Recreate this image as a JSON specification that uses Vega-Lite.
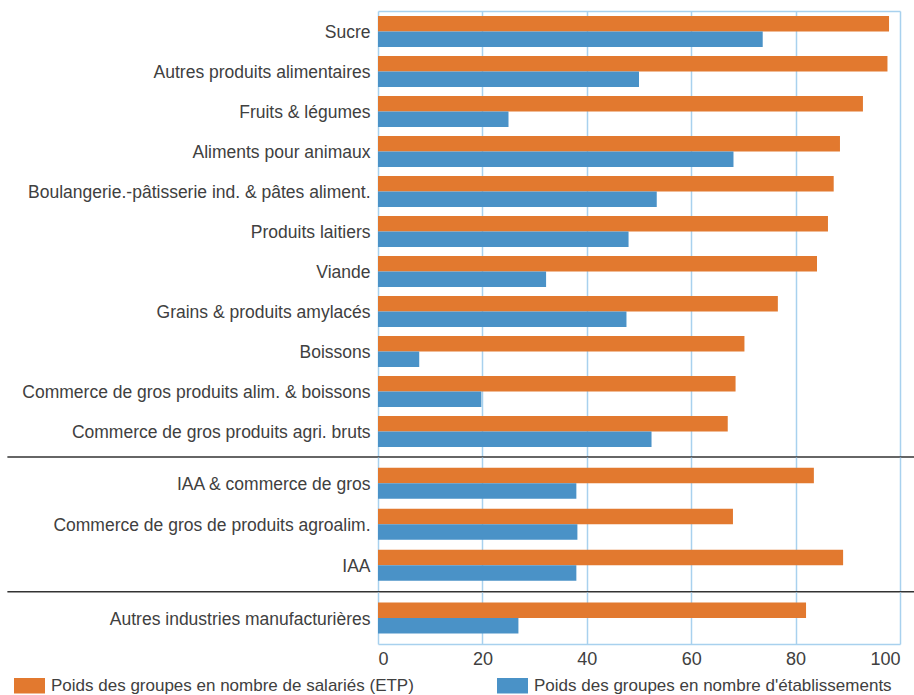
{
  "$schema": "https://vega.github.io/schema/vega-lite/v6.json",
  "padding": {"left": 6, "top": 11, "right": 0, "bottom": 0},
  "autosize": {"type": "pad"},
  "background": "white",
  "config": {
    "view": {"stroke": null},
    "font": "Liberation Sans",
    "axis": {"labelFont": "Liberation Sans", "labelColor": "#404040", "labelFontSize": 17.5, "ticks": false, "gridColor": "#a8d1ee", "gridWidth": 1.5, "gridOpacity": 1},
    "axisY": {"labelOffset": 2},
    "legend": {"labelFont": "Liberation Sans"}
  },
  "datasets": {
    "bars": [
      {"secteur": "Sucre", "bloc": "detail", "serie": "Poids des groupes en nombre de salariés (ETP)", "valeur": 97.9},
      {"secteur": "Sucre", "bloc": "detail", "serie": "Poids des groupes en nombre d'établissements", "valeur": 73.7},
      {"secteur": "Autres produits alimentaires", "bloc": "detail", "serie": "Poids des groupes en nombre de salariés (ETP)", "valeur": 97.6},
      {"secteur": "Autres produits alimentaires", "bloc": "detail", "serie": "Poids des groupes en nombre d'établissements", "valeur": 50.0},
      {"secteur": "Fruits & légumes", "bloc": "detail", "serie": "Poids des groupes en nombre de salariés (ETP)", "valeur": 92.9},
      {"secteur": "Fruits & légumes", "bloc": "detail", "serie": "Poids des groupes en nombre d'établissements", "valeur": 25.0},
      {"secteur": "Aliments pour animaux", "bloc": "detail", "serie": "Poids des groupes en nombre de salariés (ETP)", "valeur": 88.5},
      {"secteur": "Aliments pour animaux", "bloc": "detail", "serie": "Poids des groupes en nombre d'établissements", "valeur": 68.1},
      {"secteur": "Boulangerie.-pâtisserie ind. & pâtes aliment. ", "bloc": "detail", "serie": "Poids des groupes en nombre de salariés (ETP)", "valeur": 87.3},
      {"secteur": "Boulangerie.-pâtisserie ind. & pâtes aliment. ", "bloc": "detail", "serie": "Poids des groupes en nombre d'établissements", "valeur": 53.4},
      {"secteur": "Produits laitiers", "bloc": "detail", "serie": "Poids des groupes en nombre de salariés (ETP)", "valeur": 86.2},
      {"secteur": "Produits laitiers", "bloc": "detail", "serie": "Poids des groupes en nombre d'établissements", "valeur": 48.0},
      {"secteur": "Viande", "bloc": "detail", "serie": "Poids des groupes en nombre de salariés (ETP)", "valeur": 84.1},
      {"secteur": "Viande", "bloc": "detail", "serie": "Poids des groupes en nombre d'établissements", "valeur": 32.2},
      {"secteur": "Grains & produits  amylacés", "bloc": "detail", "serie": "Poids des groupes en nombre de salariés (ETP)", "valeur": 76.6},
      {"secteur": "Grains & produits  amylacés", "bloc": "detail", "serie": "Poids des groupes en nombre d'établissements", "valeur": 47.6},
      {"secteur": "Boissons", "bloc": "detail", "serie": "Poids des groupes en nombre de salariés (ETP)", "valeur": 70.2},
      {"secteur": "Boissons", "bloc": "detail", "serie": "Poids des groupes en nombre d'établissements", "valeur": 7.9},
      {"secteur": "Commerce de gros produits alim. & boissons", "bloc": "detail", "serie": "Poids des groupes en nombre de salariés (ETP)", "valeur": 68.5},
      {"secteur": "Commerce de gros produits alim. & boissons", "bloc": "detail", "serie": "Poids des groupes en nombre d'établissements", "valeur": 19.8},
      {"secteur": "Commerce de gros produits agri. bruts ", "bloc": "detail", "serie": "Poids des groupes en nombre de salariés (ETP)", "valeur": 67.0},
      {"secteur": "Commerce de gros produits agri. bruts ", "bloc": "detail", "serie": "Poids des groupes en nombre d'établissements", "valeur": 52.4},
      {"secteur": "IAA & commerce de gros", "bloc": "ensemble", "serie": "Poids des groupes en nombre de salariés (ETP)", "valeur": 83.5},
      {"secteur": "IAA & commerce de gros", "bloc": "ensemble", "serie": "Poids des groupes en nombre d'établissements", "valeur": 38.0},
      {"secteur": "Commerce de gros de produits agroalim.", "bloc": "ensemble", "serie": "Poids des groupes en nombre de salariés (ETP)", "valeur": 68.0},
      {"secteur": "Commerce de gros de produits agroalim.", "bloc": "ensemble", "serie": "Poids des groupes en nombre d'établissements", "valeur": 38.2},
      {"secteur": "IAA", "bloc": "ensemble", "serie": "Poids des groupes en nombre de salariés (ETP)", "valeur": 89.1},
      {"secteur": "IAA", "bloc": "ensemble", "serie": "Poids des groupes en nombre d'établissements", "valeur": 38.0},
      {"secteur": "Autres industries manufacturières", "bloc": "autres", "serie": "Poids des groupes en nombre de salariés (ETP)", "valeur": 82.0},
      {"secteur": "Autres industries manufacturières", "bloc": "autres", "serie": "Poids des groupes en nombre d'établissements", "valeur": 26.9}
    ],
    "separateurs": [
      {"secteur": "Commerce de gros produits agri. bruts ", "bloc": "detail", "debut": -71, "fin": 102.8},
      {"secteur": "IAA", "bloc": "ensemble", "debut": -71, "fin": 102.8}
    ]
  },
  "vconcat": [
    {
      "width": 522,
      "height": 446,
      "layer": [
        {
          "data": {"name": "bars"},
          "transform": [{"filter": "datum.bloc === 'detail'"}],
          "mark": {"type": "bar"},
          "encoding": {
            "y": {"field": "secteur", "type": "nominal", "sort": null, "title": null,
                  "scale": {"paddingInner": 0.225, "paddingOuter": 0.1875, "align": 0.333},
                  "axis": {"domain": false, "labelPadding": 8, "labelLimit": 400}},
            "yOffset": {"field": "serie", "type": "nominal", "sort": ["Poids des groupes en nombre de salariés (ETP)", "Poids des groupes en nombre d'établissements"]},
            "x": {"field": "valeur", "type": "quantitative", "title": null,
                  "scale": {"domain": [0, 100]},
                  "axis": {"orient": "top", "values": [0, 20, 40, 60, 80, 100], "labels": false, "domain": true, "domainColor": "#a8d1ee", "domainWidth": 1.5, "grid": true}},
            "color": {"field": "serie", "type": "nominal", "sort": ["Poids des groupes en nombre de salariés (ETP)", "Poids des groupes en nombre d'établissements"],
                      "scale": {"domain": ["Poids des groupes en nombre de salariés (ETP)", "Poids des groupes en nombre d'établissements"], "range": ["#e2792f", "#4a92c7"]},
                      "legend": {"orient": "none", "legendX": -364, "legendY": 659, "direction": "horizontal", "title": null, "symbolType": "M-1,-0.5H1V0.5H-1Z", "symbolSize": 961, "symbolStrokeWidth": 0, "symbolOpacity": 1, "labelFontSize": 17, "labelColor": "#404040", "labelLimit": 420, "columnPadding": 83, "labelOffset": 6, "padding": 0}}
          }
        },
        {
          "data": {"name": "separateurs"},
          "transform": [{"filter": "datum.bloc === 'detail'"}],
          "mark": {"type": "rule", "color": "#333333", "strokeWidth": 1.5},
          "encoding": {
            "y": {"field": "secteur", "type": "nominal", "sort": null, "bandPosition": 1.3226},
            "x": {"field": "debut", "type": "quantitative"},
            "x2": {"field": "fin"}
          }
        }
      ]
    },
    {
      "width": 522,
      "height": 134.3,
      "layer": [
        {
          "data": {"name": "bars"},
          "transform": [{"filter": "datum.bloc === 'ensemble'"}],
          "mark": {"type": "bar"},
          "encoding": {
            "y": {"field": "secteur", "type": "nominal", "sort": null, "title": null,
                  "scale": {"paddingInner": 0.244, "paddingOuter": 0.26, "align": 0.5},
                  "axis": {"domain": false, "labelPadding": 8, "labelLimit": 400}},
            "yOffset": {"field": "serie", "type": "nominal", "sort": ["Poids des groupes en nombre de salariés (ETP)", "Poids des groupes en nombre d'établissements"]},
            "x": {"field": "valeur", "type": "quantitative", "title": null,
                  "scale": {"domain": [0, 100]},
                  "axis": {"values": [0, 20, 40, 60, 80, 100], "labels": false, "domain": false, "grid": true}},
            "color": {"field": "serie", "type": "nominal", "sort": ["Poids des groupes en nombre de salariés (ETP)", "Poids des groupes en nombre d'établissements"],
                      "scale": {"domain": ["Poids des groupes en nombre de salariés (ETP)", "Poids des groupes en nombre d'établissements"], "range": ["#e2792f", "#4a92c7"]}}
          }
        },
        {
          "data": {"name": "separateurs"},
          "transform": [{"filter": "datum.bloc === 'ensemble'"}],
          "mark": {"type": "rule", "color": "#333333", "strokeWidth": 1.5},
          "encoding": {
            "y": {"field": "secteur", "type": "nominal", "sort": null, "bandPosition": 1.355},
            "x": {"field": "debut", "type": "quantitative"},
            "x2": {"field": "fin"}
          }
        }
      ]
    },
    {
      "width": 522,
      "height": 52,
      "data": {"name": "bars"},
      "transform": [{"filter": "datum.bloc === 'autres'"}],
      "mark": {"type": "bar"},
      "encoding": {
        "y": {"field": "secteur", "type": "nominal", "sort": null, "title": null,
              "scale": {"paddingInner": 0.25, "paddingOuter": 0.254, "align": 0.5},
              "axis": {"domain": false, "labelPadding": 8, "labelLimit": 400}},
        "yOffset": {"field": "serie", "type": "nominal", "sort": ["Poids des groupes en nombre de salariés (ETP)", "Poids des groupes en nombre d'établissements"]},
        "x": {"field": "valeur", "type": "quantitative", "title": null,
              "scale": {"domain": [0, 100]},
              "axis": {"orient": "bottom", "values": [0, 20, 40, 60, 80, 100], "labels": true, "labelPadding": 6, "labelFontSize": 18, "domain": true, "domainColor": "#a8d1ee", "domainWidth": 1.5, "grid": true}},
        "color": {"field": "serie", "type": "nominal", "sort": ["Poids des groupes en nombre de salariés (ETP)", "Poids des groupes en nombre d'établissements"],
                  "scale": {"domain": ["Poids des groupes en nombre de salariés (ETP)", "Poids des groupes en nombre d'établissements"], "range": ["#e2792f", "#4a92c7"]}}
      }
    }
  ],
  "spacing": 0,
  "bounds": "flush",
  "resolve": {"scale": {"color": "shared"}, "legend": {"color": "shared"}}
}
